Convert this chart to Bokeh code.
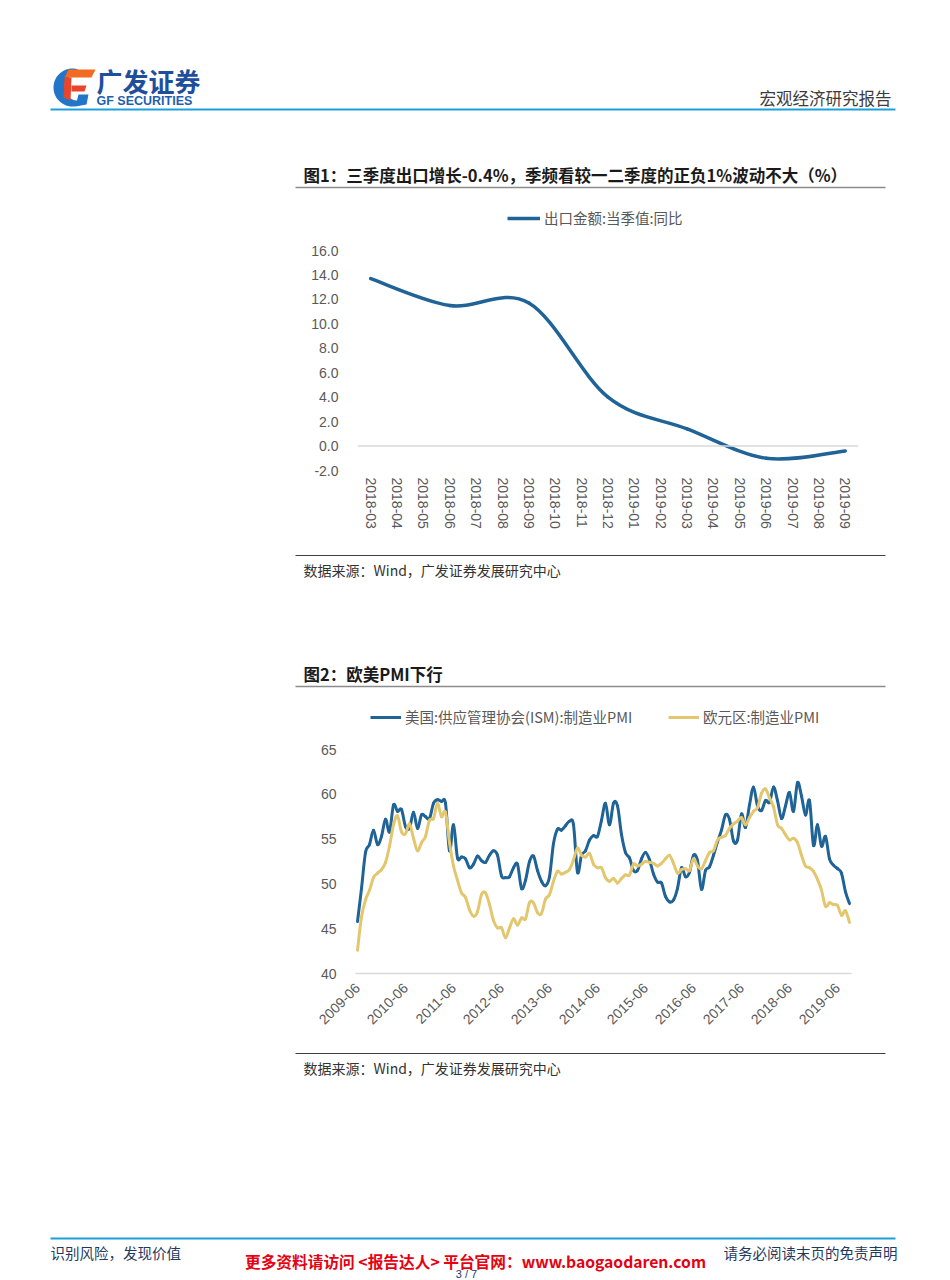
import numpy as np
import pandas as pd
from bokeh.plotting import figure
from bokeh.models import (Range1d, FixedTicker, Legend, LegendItem, Span,
                          ColumnDataSource, PrintfTickFormatter)
from bokeh.layouts import column
from bokeh.embed import file_html
from bokeh.resources import INLINE
from bokeh.core.properties import value

# ---------------- data ----------------
export_months = ["2018-03", "2018-04", "2018-05", "2018-06", "2018-07", "2018-08",
                 "2018-09", "2018-10", "2018-11", "2018-12", "2019-01", "2019-02",
                 "2019-03", "2019-04", "2019-05", "2019-06", "2019-07", "2019-08",
                 "2019-09"]
export_quarters = ["2018-03", "2018-06", "2018-09", "2018-12", "2019-03", "2019-06", "2019-09"]
export_yoy = [13.7, 11.5, 11.7, 4.0, 1.4, -1.0, -0.4]

pmi_months = pd.date_range("2009-06-01", periods=124, freq="MS").strftime("%Y-%m").tolist()
ism_pmi = [45.8, 49.5, 53.5, 54.4, 56.0, 54.4, 55.3,
           57.2, 55.8, 58.8, 58.1, 58.3, 56.4, 56.2, 58.0, 56.2, 57.7, 57.5, 57.3,
           59.0, 59.4, 59.2, 59.0, 53.7, 56.6, 52.9, 53.0, 52.8, 51.8, 52.2, 53.1,
           52.6, 52.4, 53.2, 53.7, 53.2, 50.9, 50.7, 50.8, 51.8, 52.2, 49.5, 50.4,
           52.5, 53.1, 51.5, 50.3, 49.8, 50.8, 54.5, 56.1, 56.0, 56.5, 57.0, 56.6,
           51.3, 53.2, 53.7, 54.9, 55.4, 55.3, 57.1, 59.0, 56.6, 59.0, 58.7, 55.5,
           53.5, 52.9, 51.5, 51.5, 52.8, 53.5, 52.7, 51.1, 50.2, 50.1, 48.6, 48.0,
           48.2, 49.5, 51.8, 50.8, 51.3, 53.2, 52.6, 49.4, 51.5, 51.9, 53.2, 54.7,
           56.0, 57.7, 57.2, 54.8, 54.9, 57.8, 56.3, 58.8, 60.8, 58.7, 58.2, 59.3,
           59.1, 60.8, 59.3, 57.3, 58.7, 60.2, 58.1, 61.3, 59.8, 57.7, 59.3, 54.3,
           56.6, 54.2, 55.3, 52.8, 52.1, 51.7, 51.2, 49.1, 47.8]
ez_pmi = [42.6, 46.3, 48.2, 49.3, 50.7, 51.2, 51.6,
          52.4, 54.2, 56.6, 57.6, 55.8, 55.6, 56.7, 55.1, 53.7, 54.6, 55.3, 57.1,
          57.3, 59.0, 57.5, 58.0, 54.6, 52.0, 50.4, 49.0, 48.5, 47.1, 46.4, 46.9,
          48.8, 49.0, 47.7, 45.9, 45.1, 45.1, 44.0, 45.1, 46.1, 45.4, 46.2, 46.1,
          47.9, 47.9, 46.8, 46.7, 48.3, 48.8, 50.3, 51.4, 51.1, 51.3, 51.6, 52.7,
          54.0, 53.2, 53.0, 53.4, 52.2, 51.8, 51.8, 50.7, 50.3, 50.6, 50.1, 50.6,
          51.0, 51.0, 52.2, 52.0, 52.2, 52.5, 52.4, 52.3, 52.0, 52.3, 52.8, 53.2,
          52.3, 51.2, 51.6, 51.7, 51.5, 52.8, 52.0, 51.7, 52.6, 53.5, 53.7, 54.9,
          55.2, 55.4, 56.2, 56.7, 57.0, 57.4, 56.6, 57.4, 58.1, 58.5, 60.1, 60.6,
          59.6, 58.6, 56.6, 56.2, 55.5, 54.9, 55.1, 54.6, 53.2, 52.0, 51.8, 51.4,
          50.5, 49.3, 47.5, 47.9, 47.7, 47.6, 46.5, 47.0, 45.7]
pmi_tick_labels = ["2009-06", "2010-06", "2011-06", "2012-06", "2013-06", "2014-06",
                   "2015-06", "2016-06", "2017-06", "2018-06", "2019-06"]

BLUE = "#1F6397"
GOLD = "#E3C76F"
AXIS_TXT = "#595959"
CJK = "Noto Sans CJK SC"
LAT = "Liberation Sans"
W = 950


def smooth_source(xs, ys):
    """Bezier control points (Catmull-Rom style) derived from the data points."""
    xs = np.asarray(xs, float)
    ys = np.asarray(ys, float)
    n = len(xs)
    xp = np.concatenate([[xs[0]], xs, [xs[-1]]])
    yp = np.concatenate([[ys[0]], ys, [ys[-1]]])
    return ColumnDataSource(dict(
        x0=xs[:-1], y0=ys[:-1], x1=xs[1:], y1=ys[1:],
        cx0=xs[:-1] + (xp[2:n + 1] - xp[0:n - 1]) / 6.0,
        cy0=ys[:-1] + (yp[2:n + 1] - yp[0:n - 1]) / 6.0,
        cx1=xs[1:] - (xp[3:n + 2] - xp[1:n]) / 6.0,
        cy1=ys[1:] - (yp[3:n + 2] - yp[1:n]) / 6.0,
    ))


def deco(top, bottom):
    f = figure(width=W, height=bottom - top, x_range=Range1d(0, W),
               y_range=Range1d(bottom, top), toolbar_location=None,
               output_backend="svg", x_axis_location=None, y_axis_location=None,
               min_border=0, frame_align=False)
    f.grid.visible = False
    f.outline_line_color = None
    f.background_fill_color = "white"
    f.border_fill_color = "white"
    return f


def txt(f, x, y, s, size, color="#222222", font=CJK, bold=False, align="left",
        baseline="middle"):
    f.text(x=[x], y=[y], text=[s], text_font=value(font),
           text_font_size=value(size), text_color=color, text_align=align,
           text_baseline=baseline, text_font_style="bold" if bold else "normal")


def hline(f, x0, x1, y, color, width):
    f.line(x=[x0, x1], y=[y, y], line_color=color, line_width=width)


# ---------------- header + chart 1 title ----------------
d1 = deco(0, 200)
a = np.radians(np.linspace(75, 285, 40))
outer_x = 72 + 19 * np.cos(a)
outer_y = 87 - 19 * np.sin(a)
inner_x = 77 + 13 * np.cos(a[::-1])
inner_y = 87 - 13 * np.sin(a[::-1])
d1.patch(np.concatenate([outer_x, inner_x]), np.concatenate([outer_y, inner_y]),
         fill_color="#2176C7", line_color=None)
d1.patch([68, 95, 91, 64], [69, 69, 77, 77], fill_color="#F26B21", line_color=None)
d1.patch([64, 71, 70, 63], [77, 77, 100, 97], fill_color="#E8452A", line_color=None)
d1.patch([71, 86, 84, 71], [85, 85, 91, 91], fill_color="#E8452A", line_color=None)
d1.patch([78, 88, 86, 75], [94, 94, 104, 106], fill_color="#2176C7", line_color=None)
txt(d1, 96, 80, "广发证券", "26px", color="#1E4E9C", bold=True)
txt(d1, 96, 100, "GF SECURITIES", "12.5px", color="#1E5FAF", font=LAT, bold=True)
txt(d1, 891, 97, "宏观经济研究报告", "16.5px", color="#3C3C3C", align="right")
hline(d1, 50, 895, 109, "#1CA0DC", 2)
txt(d1, 303, 174, "图1：三季度出口增长-0.4%，季频看较一二季度的正负1%波动不大（%）",
    "16.5px", color="#1A1A1A", bold=True)
hline(d1, 295, 885, 187, "#8C8C8C", 1.5)


def style_axes(p):
    for ax in (p.xaxis[0], p.yaxis[0]):
        ax.major_tick_line_color = None
        ax.minor_tick_line_color = None
        ax.major_label_text_font = LAT
        ax.major_label_text_font_size = "14px"
        ax.major_label_text_color = AXIS_TXT
    p.yaxis.axis_line_color = None
    p.grid.visible = False
    p.outline_line_color = None
    p.background_fill_color = "white"
    p.border_fill_color = "white"


def add_key(p, label, rend, vx, vy, gw):
    lg = Legend(items=[LegendItem(label=label, renderers=[rend])], location=(vx, vy),
                orientation="horizontal", border_line_color=None,
                background_fill_alpha=0, padding=0, margin=0, glyph_width=gw,
                glyph_height=14, label_height=14, label_standoff=4,
                label_text_font=CJK, label_text_font_size="14.5px",
                label_text_color=AXIS_TXT)
    p.add_layout(lg)


# ---------------- chart 1 (frame page y 205..470, value 16 at y 250) ----------------
px1 = 220 / 18.0
c1 = figure(width=W, height=350, x_range=Range1d(-0.5, len(export_months) - 0.5),
            y_range=Range1d(-2, 16 + 45 / px1), toolbar_location=None,
            output_backend="svg", min_border_left=357, min_border_right=92,
            min_border_top=5, min_border_bottom=80, frame_align=False)
style_axes(c1)
c1.xaxis.ticker = FixedTicker(ticks=list(range(len(export_months))))
c1.xaxis.major_label_overrides = {i: m for i, m in enumerate(export_months)}
c1.xaxis.major_label_orientation = "vertical"
c1.xaxis.major_label_standoff = 1
c1.xaxis.axis_line_color = None
c1.yaxis.ticker = FixedTicker(ticks=list(range(-2, 17, 2)))
c1.yaxis.formatter = PrintfTickFormatter(format="%.1f")
c1.yaxis.major_label_standoff = 13
c1.add_layout(Span(location=0, dimension="width", line_color="#D9D9D9", line_width=1.5))

qx = [export_months.index(q) for q in export_quarters]
c1.bezier(x0="x0", y0="y0", x1="x1", y1="y1", cx0="cx0", cy0="cy0", cx1="cx1",
          cy1="cy1", source=smooth_source(qx, export_yoy), line_color=BLUE,
          line_width=3.5, line_cap="round")
key1 = c1.line(x=[np.nan], y=[np.nan], line_color=BLUE, line_width=3.5)
add_key(c1, "出口金额:当季值:同比", key1, 150, 242, 33)

# ---------------- source 1 + chart 2 title ----------------
d2 = deco(550, 700)
hline(d2, 295, 885, 555, "#404040", 1)
txt(d2, 303, 569, "数据来源：Wind，广发证券发展研究中心", "14px", color="#333333")
txt(d2, 303, 673, "图2：欧美PMI下行", "16.5px", color="#1A1A1A", bold=True)
hline(d2, 295, 885, 686, "#8C8C8C", 1.5)

# ---------------- chart 2 (frame page y 705..973, value 65 at y 749) ----------------
n = len(pmi_months)
px2 = 224 / 25.0
c2 = figure(width=W, height=348, x_range=Range1d(-0.5, n - 0.5),
            y_range=Range1d(40, 65 + 44 / px2), toolbar_location=None,
            output_backend="svg", min_border_left=355, min_border_right=99,
            min_border_top=5, min_border_bottom=75, frame_align=False)
style_axes(c2)
tick_idx = [pmi_months.index(t) for t in pmi_tick_labels]
c2.xaxis.ticker = FixedTicker(ticks=tick_idx)
c2.xaxis.major_label_overrides = {i: pmi_months[i] for i in tick_idx}
c2.xaxis.major_label_orientation = np.pi / 4
c2.xaxis.major_label_standoff = 6
c2.xaxis.axis_line_color = "#D9D9D9"
c2.xaxis.axis_line_width = 1.5
c2.yaxis.ticker = FixedTicker(ticks=list(range(40, 66, 5)))
c2.yaxis.major_label_standoff = 13

idx = list(range(n))
c2.bezier(x0="x0", y0="y0", x1="x1", y1="y1", cx0="cx0", cy0="cy0", cx1="cx1",
          cy1="cy1", source=smooth_source(idx, ism_pmi), line_color=BLUE,
          line_width=3, line_cap="round")
c2.bezier(x0="x0", y0="y0", x1="x1", y1="y1", cx0="cx0", cy0="cy0", cx1="cx1",
          cy1="cy1", source=smooth_source(idx, ez_pmi), line_color=GOLD,
          line_width=3, line_cap="round")
key_a = c2.line(x=[np.nan], y=[np.nan], line_color=BLUE, line_width=3)
key_b = c2.line(x=[np.nan], y=[np.nan], line_color=GOLD, line_width=3)
add_key(c2, "美国:供应管理协会(ISM):制造业PMI", key_a, 15, 246, 31)
add_key(c2, "欧元区:制造业PMI", key_b, 313, 246, 31)

# ---------------- source 2 + footer ----------------
d3 = deco(1048, 1280)
hline(d3, 295, 885, 1053, "#404040", 1)
txt(d3, 303, 1067, "数据来源：Wind，广发证券发展研究中心", "14px", color="#333333")
hline(d3, 50, 895, 1238, "#1CA0DC", 2)
txt(d3, 50, 1252, "识别风险，发现价值", "14.5px", color="#1F3A5F")
txt(d3, 897, 1252, "请务必阅读末页的免责声明", "14.5px", color="#1F3A5F", align="right")
txt(d3, 475, 1261, "更多资料请访问 <报告达人> 平台官网：www.baogaodaren.com", "15.7px",
    color="#E60012", bold=True, align="center")
txt(d3, 466, 1279, "3 / 7", "11px", color="#1F3A5F", font=LAT, align="center",
    baseline="bottom")

page = column(d1, c1, d2, c2, d3, spacing=0)
open("out.html", "w").write(file_html(page, INLINE))
